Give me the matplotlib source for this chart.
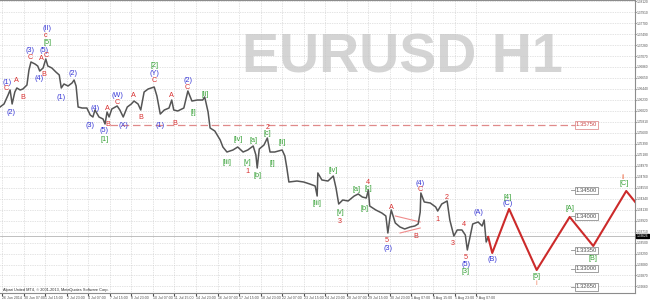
import matplotlib
matplotlib.use("Agg")
import matplotlib.pyplot as plt
import matplotlib.transforms as mtransforms

plt.rcParams['font.family'] = ['Liberation Sans', 'DejaVu Sans']

# price path (bar index, price)
bars = [-3, 3, 9, 12, 15, 19, 22, 27, 31, 37, 40, 43, 49, 53, 56, 61, 65, 68, 74, 80,
        85, 88, 92, 98, 104, 107, 110, 113, 119, 126, 131, 135, 138, 144, 150, 153, 156, 159, 163, 171,
        175, 180, 186, 192, 196, 202, 206, 211, 217, 226, 230, 235, 241, 248, 252, 255, 261, 270, 276, 282,
        290, 298, 301, 306, 309, 316, 324, 328, 334, 343, 350, 358, 365, 373, 377, 379, 382, 389, 394, 398,
        405, 416, 420, 423, 426, 438, 448, 457, 465, 468, 469, 475, 484, 492, 496, 500, 506, 514, 523, 529,
        535, 541, 544, 546, 555, 564, 570, 573, 576, 578, 584, 591, 598, 606, 613, 618, 621, 622, 627, 636,
        644, 647, 653, 661, 665, 671, 676, 683, 688, 691, 695, 699, 707, 713, 716, 719, 722]
prices = [1.36094, 1.36152, 1.36324, 1.36420, 1.36152, 1.36381, 1.36458, 1.36420, 1.36439, 1.36515,
          1.36802, 1.36956, 1.36917, 1.36879, 1.36783, 1.36841, 1.37013, 1.36879, 1.36841, 1.36764,
          1.36707, 1.36458, 1.36535, 1.36496, 1.36554, 1.36611, 1.36496, 1.36094, 1.36075, 1.36075,
          1.35941, 1.35903, 1.36037, 1.35903, 1.35865, 1.35769, 1.35999, 1.35903, 1.36056, 1.36114,
          1.36037, 1.35903, 1.36094, 1.36152, 1.36209, 1.36152, 1.36037, 1.36381, 1.36439, 1.36477,
          1.36305, 1.35960, 1.36037, 1.36075, 1.36228, 1.36037, 1.36018, 1.36075, 1.36401, 1.36209,
          1.36228, 1.36228, 1.36286, 1.35999, 1.35693, 1.35635, 1.35463, 1.35329, 1.35233, 1.35272,
          1.35329, 1.35233, 1.35272, 1.35348, 1.35176, 1.34927, 1.35291, 1.35367, 1.35501, 1.35233,
          1.35233, 1.35272, 1.35157, 1.34927, 1.34659, 1.34678, 1.34659, 1.34621, 1.34583, 1.34391,
          1.34832, 1.34698, 1.34678, 1.34774, 1.34544, 1.34238, 1.34315, 1.34296, 1.34391, 1.34430,
          1.34372, 1.34353, 1.34506, 1.34200, 1.34124, 1.34066, 1.34009, 1.33683, 1.33970, 1.34124,
          1.33875, 1.33798, 1.33760, 1.33798, 1.33817, 1.33856, 1.34085, 1.34449, 1.34277, 1.34257,
          1.34181, 1.34104, 1.34238, 1.34296, 1.33932, 1.33626, 1.33741, 1.33741, 1.33645, 1.33358,
          1.33607, 1.33856, 1.33894, 1.33817, 1.33932, 1.33511, 1.33607]

# projected path
proj_bars = [722, 728, 753, 794, 843, 878, 927, 962]
proj_prices = [1.33607, 1.33301, 1.34143, 1.32975, 1.33990, 1.33435, 1.34487, 1.33932]

# triangle
tri_upper = ([584, 621], [1.34009, 1.33894])
tri_lower = ([591, 621], [1.33683, 1.33779])

levels = [1.35750, 1.34500, 1.34000, 1.33350, 1.33000, 1.32650]
current_price = 1.33626

time_labels = ["26 Jun 2014", "30 Jun 07:00", "1 Jul 15:00", "2 Jul 23:00", "4 Jul 07:00",
               "7 Jul 15:00", "8 Jul 23:00", "10 Jul 07:00", "11 Jul 15:00", "14 Jul 23:00",
               "16 Jul 07:00", "17 Jul 15:00", "18 Jul 23:00", "22 Jul 07:00", "23 Jul 15:00",
               "24 Jul 23:00", "28 Jul 07:00", "29 Jul 15:00", "30 Jul 23:00", "1 Aug 07:00",
               "4 Aug 15:00", "5 Aug 23:00", "7 Aug 07:00"]
time_ticks = [32 * i for i in range(len(time_labels))]
price_ticks = [round(1.38120 - 0.0021 * i, 5) for i in range(27)]

blue_labels = [(7, 1.36554, "(1)"), (13, 1.35980, "(2)"), (42, 1.37185, "(3)"), (55, 1.36649, "(4)"),
               (62, 1.37185, "(5)"), (67, 1.37606, "(II)"), (88, 1.36267, "(1)"), (105, 1.36726, "(2)"),
               (131, 1.35731, "(3)"), (138, 1.36075, "(4)"), (151, 1.35654, "(5)"), (172, 1.36305, "(W)"),
               (180, 1.35731, "(X)"), (226, 1.36745, "(Y)"), (235, 1.35731, "(1)"), (276, 1.36592, "(2)"),
               (573, 1.33396, "(3)"), (621, 1.34640, "(4)"), (689, 1.33071, "(5)"), (708, 1.34066, "(A)"),
               (728, 1.33167, "(B)"), (751, 1.34257, "(C)")]
red_labels = [(7, 1.36439, "C"), (22, 1.36611, "A"), (31, 1.36267, "B"), (42, 1.37051, "C"),
              (59, 1.37032, "A"), (65, 1.37080, "C"), (62, 1.36707, "B"), (65, 1.37472, "c"),
              (156, 1.36075, "A"), (157, 1.35750, "B"), (171, 1.36190, "C"), (195, 1.36305, "A"),
              (206, 1.35903, "B"), (226, 1.36611, "C"), (252, 1.36305, "A"), (257, 1.35788, "B"),
              (275, 1.36458, "C"), (364, 1.34851, "1"), (394, 1.35693, "2"), (502, 1.33894, "3"),
              (544, 1.34659, "4"), (572, 1.33549, "5"), (578, 1.34162, "A"), (615, 1.33607, "B"),
              (621, 1.34525, "C"), (646, 1.33951, "1"), (661, 1.34353, "2"), (670, 1.33473, "3"),
              (686, 1.33837, "4"), (689, 1.33205, "5")]
orange_labels = [(794, 1.32708, "i"), (922, 1.34736, "ii")]
green_labels = [(67, 1.37338, "[5]"), (153, 1.35463, "[1]"), (226, 1.36879, "[2]"), (284, 1.35980, "[i]"),
                (301, 1.36343, "[ii]"), (334, 1.35023, "[iii]"), (350, 1.35463, "[iv]"), (364, 1.35023, "[v]"),
                (373, 1.35444, "[a]"), (379, 1.34774, "[b]"), (394, 1.35578, "[c]"), (401, 1.35004, "[i]"),
                (416, 1.35406, "[ii]"), (468, 1.34257, "[iii]"), (492, 1.34870, "[iv]"), (502, 1.34066, "[v]"),
                (527, 1.34525, "[a]"), (539, 1.34143, "[b]"), (544, 1.34544, "[c]"), (689, 1.32937, "[3]"),
                (751, 1.34372, "[4]"), (794, 1.32842, "[5]"), (843, 1.34143, "[A]"), (878, 1.33186, "[B]"),
                (924, 1.34621, "[C]")]

fig = plt.figure(figsize=(6.5, 3), dpi=100)
ax = fig.add_axes([0, 7 / 300, 635 / 650, 293 / 300])
ax.set_xlim(-3, 940)
ax.set_ylim(1.32535, 1.38142)

ax.grid(True, color='#c8c8c8', linestyle=(0, (1, 1.5)), linewidth=0.5)
ax.set_axisbelow(True)

ax.text(0.381, 0.751, "EURUSD H1", transform=ax.transAxes, fontsize=40, fontweight='bold',
        color='#d4d4d4', ha='left', va='baseline', zorder=0)

ax.axhline(current_price, color='#b4b4b4', linewidth=0.6, zorder=1)
ax.plot(bars, prices, color='#555555', linewidth=1.1, zorder=3)
ax.plot(proj_bars, proj_prices, color='#cc2a2a', linewidth=1.5, zorder=3)
ax.plot(*tri_upper, color='#f08c8c', linewidth=0.8, zorder=2)
ax.plot(*tri_lower, color='#f08c8c', linewidth=0.8, zorder=2)

ax.plot([160, 851], [levels[0], levels[0]], color='#e08a8a', linestyle=(0, (6, 3)), linewidth=0.9)
for i, lvl in enumerate(levels):
    edge = '#e09090' if i == 0 else '#909090'
    tcol = '#c84848' if i == 0 else '#505050'
    ax.plot([845, 851], [lvl, lvl], color=edge, linewidth=0.6)
    ax.text(852, lvl, f"{lvl:.5f}", fontsize=4.2, color=tcol, ha='left', va='center',
            bbox=dict(boxstyle='square,pad=0.2', fc='white', ec=edge, lw=0.6))

for items, col in [(blue_labels, '#3535d5'), (red_labels, '#d83030'),
                   (orange_labels, '#f08060'), (green_labels, '#35a035')]:
    for x, y, t in items:
        ax.text(x, y, t, fontsize=5.2, color=col, ha='center', va='center', zorder=4)

ax.yaxis.tick_right()
ax.set_yticks(price_ticks)
ax.set_yticklabels([f"{p:.5f}" for p in price_ticks])
ax.set_xticks(time_ticks)
ax.set_xticklabels(time_labels, ha='left')
ax.tick_params(axis='y', labelsize=2.3, length=1, pad=0.4, colors='#505050')
ax.tick_params(axis='x', labelsize=2.6, length=2, pad=0.5, colors='#505050')

blend = mtransforms.blended_transform_factory(ax.transAxes, ax.transData)
ax.text(1.003, current_price, f"{current_price:.5f}", transform=blend, fontsize=2.3, color='white',
        ha='left', va='center', bbox=dict(boxstyle='square,pad=0.15', fc='black', ec='black'))

ax.text(0.004, 0.004, "Alpari United MT4, \u00a9 2001-2013, MetaQuotes Software Corp.",
        transform=ax.transAxes, fontsize=2.8, color='#303030', ha='left', va='bottom')

for side in ['top', 'right', 'bottom']:
    ax.spines[side].set_color('#8c8c8c')
    ax.spines[side].set_linewidth(0.8)
ax.spines['left'].set_visible(False)

fig.savefig("out.png", dpi=100, facecolor='white')
